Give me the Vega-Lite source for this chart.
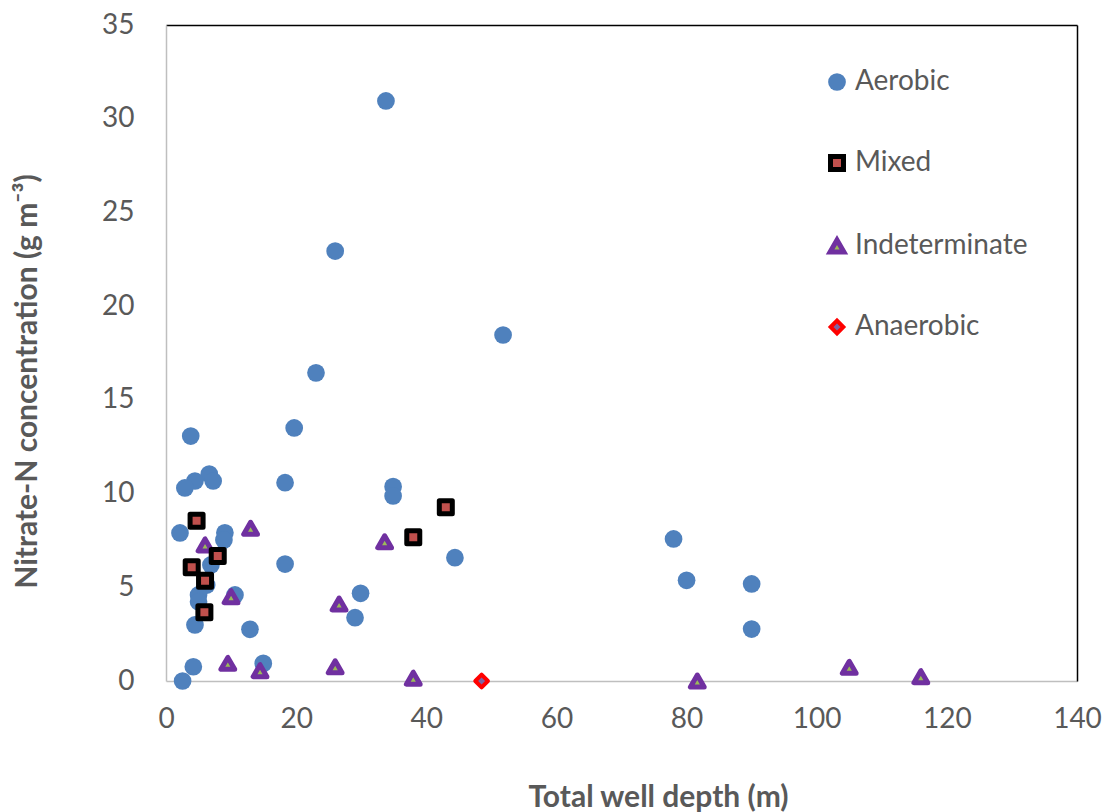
{
  "$schema": "https://vega.github.io/schema/vega-lite/v6.json",
  "width": 911,
  "height": 656,
  "autosize": {"type": "none"},
  "padding": {"left": 166, "top": 25, "right": 28, "bottom": 131},
  "background": "white",
  "config": {
    "view": {"stroke": null},
    "font": "Lato",
    "axis": {"grid": false, "ticks": false, "labelFlush": false, "domainColor": "#BFBFBF", "domainWidth": 1.5, "labelFont": "Lato", "labelFontSize": 28, "labelColor": "#595959", "titleFont": "Lato", "titleFontSize": 30, "titleFontWeight": "bold", "titleColor": "#595959"},
    "legend": {"orient": "none", "legendX": 657, "legendY": 43, "labelFont": "Lato", "labelFontSize": 28, "labelColor": "#595959", "labelLimit": 400, "rowPadding": 50, "labelOffset": 4, "padding": 0}
  },
  "data": {"values": [
    {"depth": 33.8, "nitrate": 30.95, "type": "Aerobic"},
    {"depth": 26.0, "nitrate": 22.94, "type": "Aerobic"},
    {"depth": 51.8, "nitrate": 18.46, "type": "Aerobic"},
    {"depth": 23.05, "nitrate": 16.44, "type": "Aerobic"},
    {"depth": 19.7, "nitrate": 13.5, "type": "Aerobic"},
    {"depth": 3.8, "nitrate": 13.07, "type": "Aerobic"},
    {"depth": 6.65, "nitrate": 11.04, "type": "Aerobic"},
    {"depth": 4.45, "nitrate": 10.67, "type": "Aerobic"},
    {"depth": 7.25, "nitrate": 10.67, "type": "Aerobic"},
    {"depth": 2.9, "nitrate": 10.3, "type": "Aerobic"},
    {"depth": 18.3, "nitrate": 10.58, "type": "Aerobic"},
    {"depth": 34.9, "nitrate": 10.37, "type": "Aerobic"},
    {"depth": 34.9, "nitrate": 9.87, "type": "Aerobic"},
    {"depth": 2.15, "nitrate": 7.9, "type": "Aerobic"},
    {"depth": 9.05, "nitrate": 7.91, "type": "Aerobic"},
    {"depth": 8.9, "nitrate": 7.52, "type": "Aerobic"},
    {"depth": 18.3, "nitrate": 6.24, "type": "Aerobic"},
    {"depth": 44.4, "nitrate": 6.58, "type": "Aerobic"},
    {"depth": 78.0, "nitrate": 7.58, "type": "Aerobic"},
    {"depth": 80.0, "nitrate": 5.37, "type": "Aerobic"},
    {"depth": 90.0, "nitrate": 5.18, "type": "Aerobic"},
    {"depth": 90.0, "nitrate": 2.77, "type": "Aerobic"},
    {"depth": 29.9, "nitrate": 4.68, "type": "Aerobic"},
    {"depth": 29.05, "nitrate": 3.38, "type": "Aerobic"},
    {"depth": 12.9, "nitrate": 2.76, "type": "Aerobic"},
    {"depth": 10.6, "nitrate": 4.59, "type": "Aerobic"},
    {"depth": 4.45, "nitrate": 2.99, "type": "Aerobic"},
    {"depth": 14.95, "nitrate": 0.94, "type": "Aerobic"},
    {"depth": 4.2, "nitrate": 0.76, "type": "Aerobic"},
    {"depth": 2.55, "nitrate": 0.0, "type": "Aerobic"},
    {"depth": 6.9, "nitrate": 6.19, "type": "Aerobic"},
    {"depth": 6.25, "nitrate": 5.12, "type": "Aerobic"},
    {"depth": 5.0, "nitrate": 4.59, "type": "Aerobic"},
    {"depth": 5.0, "nitrate": 4.23, "type": "Aerobic"},
    {"depth": 13.0, "nitrate": 8.15, "type": "Indeterminate"},
    {"depth": 6.0, "nitrate": 7.26, "type": "Indeterminate"},
    {"depth": 10.0, "nitrate": 4.5, "type": "Indeterminate"},
    {"depth": 9.5, "nitrate": 0.94, "type": "Indeterminate"},
    {"depth": 14.45, "nitrate": 0.55, "type": "Indeterminate"},
    {"depth": 33.6, "nitrate": 7.43, "type": "Indeterminate"},
    {"depth": 26.6, "nitrate": 4.11, "type": "Indeterminate"},
    {"depth": 26.0, "nitrate": 0.76, "type": "Indeterminate"},
    {"depth": 38.0, "nitrate": 0.15, "type": "Indeterminate"},
    {"depth": 81.65, "nitrate": 0.0, "type": "Indeterminate"},
    {"depth": 105.0, "nitrate": 0.73, "type": "Indeterminate"},
    {"depth": 116.0, "nitrate": 0.23, "type": "Indeterminate"},
    {"depth": 4.7, "nitrate": 8.55, "type": "Mixed"},
    {"depth": 7.95, "nitrate": 6.67, "type": "Mixed"},
    {"depth": 3.95, "nitrate": 6.07, "type": "Mixed"},
    {"depth": 6.0, "nitrate": 5.35, "type": "Mixed"},
    {"depth": 5.9, "nitrate": 3.67, "type": "Mixed"},
    {"depth": 43.0, "nitrate": 9.27, "type": "Mixed"},
    {"depth": 38.0, "nitrate": 7.67, "type": "Mixed"},
    {"depth": 48.5, "nitrate": 0.0, "type": "Anaerobic"}
  ]},
  "layer": [
    {
      "mark": {"type": "point", "opacity": 0},
      "encoding": {
        "x": {"field": "depth", "type": "quantitative", "scale": {"domain": [0, 140], "nice": false}, "axis": {"orient": "top", "labels": false, "title": null, "domainColor": "#000000", "domainWidth": 1.5}},
        "y": {"field": "nitrate", "type": "quantitative", "scale": {"domain": [0, 35], "nice": false}, "axis": {"orient": "right", "labels": false, "title": null, "domainColor": "#000000", "domainWidth": 1.5}}
      }
    },
    {
      "mark": {"type": "point", "filled": true, "opacity": 1, "strokeJoin": "round"},
      "encoding": {
        "x": {"field": "depth", "type": "quantitative", "scale": {"domain": [0, 140], "nice": false}, "axis": {"orient": "bottom", "values": [0, 20, 40, 60, 80, 100, 120, 140], "labelPadding": 24, "title": "Total well depth (m)", "titleX": 492, "titleY": 116, "titleBaseline": "middle", "titleAlign": "center", "titleAnchor": null}},
        "y": {"field": "nitrate", "type": "quantitative", "scale": {"domain": [0, 35], "nice": false}, "axis": {"orient": "left", "values": [0, 5, 10, 15, 20, 25, 30, 35], "labelPadding": 32, "title": "Nitrate-N concentration (g m⁻³)", "titleX": -139, "titleY": 356, "titleBaseline": "middle", "titleAlign": "center", "titleAnchor": null, "titleAngle": -90}},
        "shape": {"field": "type", "type": "nominal", "scale": {"domain": ["Aerobic", "Mixed", "Indeterminate", "Anaerobic"], "range": ["circle", "square", "triangle-up", "diamond"]}, "legend": {"title": null}},
        "fill": {"field": "type", "type": "nominal", "scale": {"domain": ["Aerobic", "Mixed", "Indeterminate", "Anaerobic"], "range": ["#4F81BD", "#C0504D", "#9BBB59", "#8064A2"]}, "legend": {"title": null}},
        "stroke": {"field": "type", "type": "nominal", "scale": {"domain": ["Aerobic", "Mixed", "Indeterminate", "Anaerobic"], "range": ["#4F81BD", "#000000", "#7030A0", "#FF0000"]}, "legend": {"title": null}},
        "size": {"field": "type", "type": "nominal", "scale": {"type": "ordinal", "domain": ["Aerobic", "Mixed", "Indeterminate", "Anaerobic"], "range": [314, 169, 190, 160]}, "legend": {"title": null}},
        "strokeWidth": {"field": "type", "type": "nominal", "scale": {"type": "ordinal", "domain": ["Aerobic", "Mixed", "Indeterminate", "Anaerobic"], "range": [0, 5, 5, 4]}, "legend": {"title": null}}
      }
    }
  ],
  "resolve": {"axis": {"x": "independent", "y": "independent"}}
}
